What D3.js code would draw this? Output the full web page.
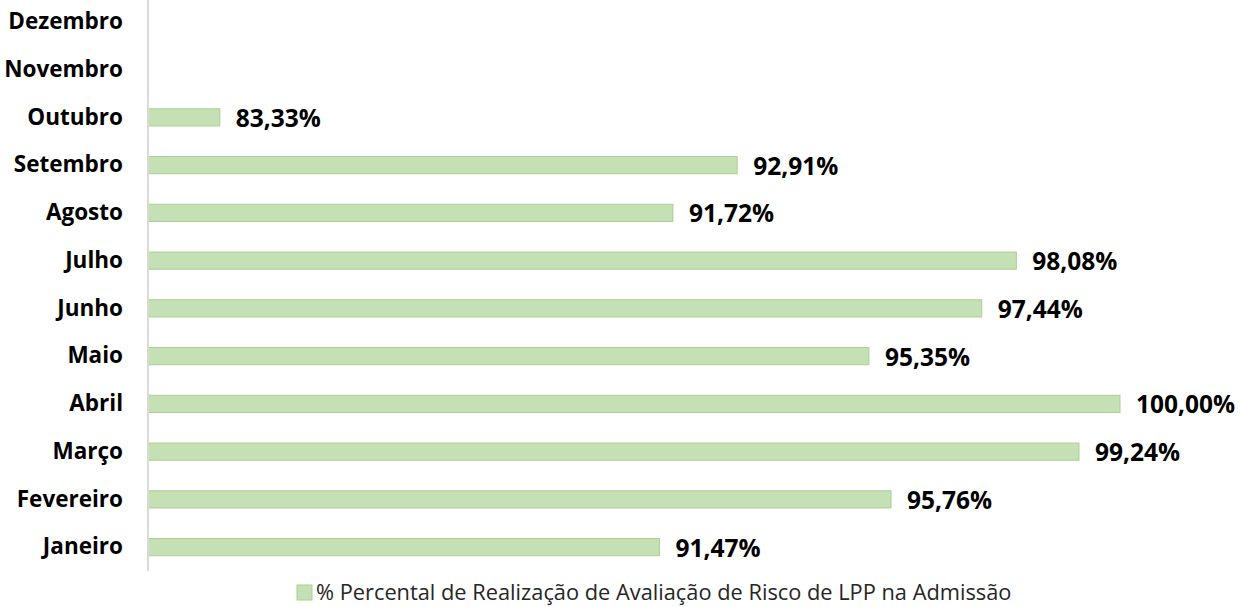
<!DOCTYPE html>
<html>
<head>
<meta charset="utf-8">
<script src="https://cdn.jsdelivr.net/npm/d3@7"></script>
<style>
body{margin:0;background:#fff;}
text{font-family:"Open Sans",sans-serif;}
</style>
</head>
<body>
<svg id="chart" width="1241" height="607"></svg>
<script>
// months from Janeiro (bottom) to Dezembro (top)
var months = ['Janeiro','Fevereiro','Março','Abril','Maio','Junho','Julho','Agosto','Setembro','Outubro','Novembro','Dezembro'];
var percents = [91.47,95.76,99.24,100.00,95.35,97.44,98.08,91.72,92.91,83.33,0,0];
var valueLabels = ['91,47%','95,76%','99,24%','100,00%','95,35%','97,44%','98,08%','91,72%','92,91%','83,33%','',''];
var seriesName = '% Percental de Realização de Avaliação de Risco de LPP na Admissão';

var svg = d3.select('#chart');
var data = months.map((m,i) => ({month:m, value:percents[i], label:valueLabels[i]}));

var xscale = d3.scaleLinear()
	.domain([82,100])
	.range([148,1120])
	.clamp(true);

var yscale = d3.scaleBand()
	.domain(months.slice().reverse())
	.range([-2,571])
	.paddingInner(0.64)
	.paddingOuter(0.32);

// bars
svg.append('g').selectAll('rect').data(data)
	.enter()
	.append('rect')
	.attr('x',xscale.range()[0]+0.5)
	.attr('y',d => yscale(d.month))
	.attr('width',d => Math.max(0,xscale(d.value)-xscale.range()[0]-0.5))
	.attr('height',yscale.bandwidth())
	.attr('fill','#c5e0b4')
	.attr('stroke','#a9d18e')
	.attr('stroke-width',1);

// value labels
svg.append('g').selectAll('text').data(data.filter(d => d.label))
	.enter()
	.append('text')
	.attr('x',d => xscale(d.value)+16)
	.attr('y',d => yscale(d.month)+yscale.bandwidth()/2+1)
	.attr('dy','0.35em')
	.attr('font-size','24.5px')
	.attr('font-weight','bold')
	.attr('fill','#000')
	.text(d => d.label);

// category axis
var axis = svg.append('g').attr('transform','translate(148,0)')
	.call(d3.axisLeft(yscale).tickSize(0).tickPadding(25));
axis.select('.domain').attr('stroke','#d9d9d9').attr('stroke-width',2).attr('d','M0,0V571');
axis.selectAll('text')
	.attr('font-family','"Open Sans",sans-serif')
	.attr('font-size','22.5px')
	.attr('font-weight','bold')
	.attr('fill','#000');

// legend
var legend = svg.append('g').attr('transform','translate(297,585)');
legend.append('rect')
	.attr('width',15).attr('height',15)
	.attr('fill','#c5e0b4').attr('stroke','#a9d18e');
legend.append('text')
	.attr('x',19).attr('y',7).attr('dy','0.35em')
	.attr('font-size','21.8px')
	.attr('fill','#262626')
	.text(seriesName);
</script>
</body>
</html>
